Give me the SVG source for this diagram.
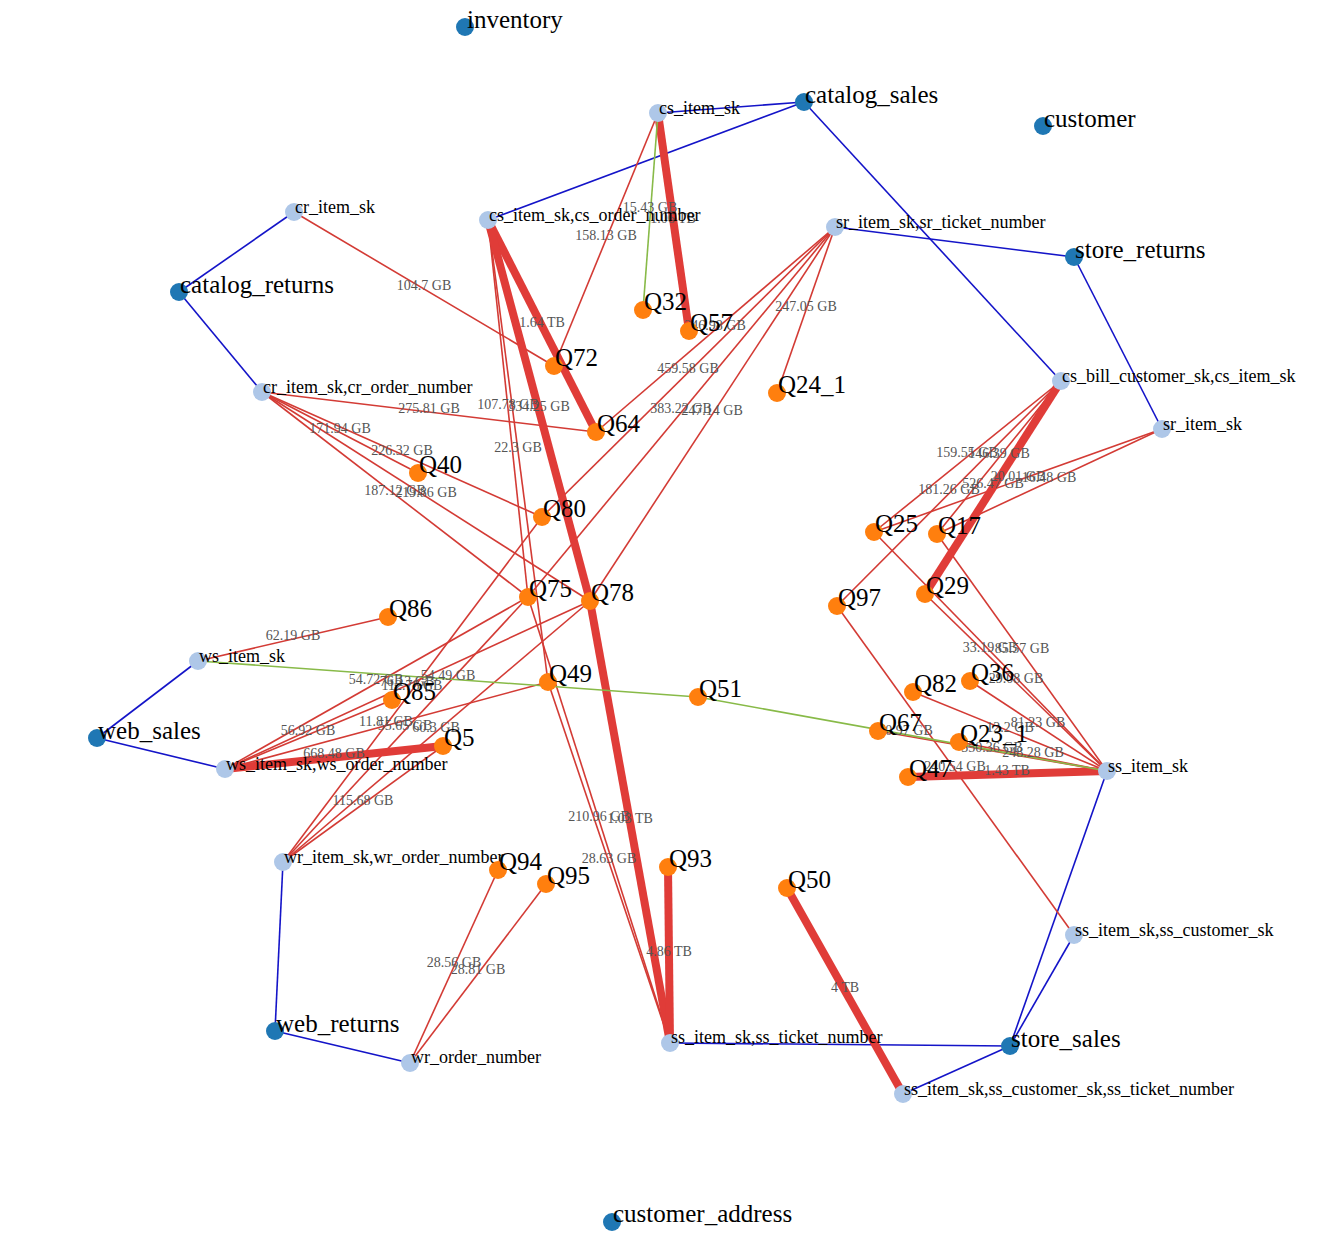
<svg xmlns="http://www.w3.org/2000/svg" width="1340" height="1245" viewBox="0 0 1340 1245">
<style>
.bg{fill:#ffffff}
.b{stroke:#1414c8;stroke-width:1.6;fill:none}
.g{stroke:#88ba48;stroke-width:1.6;fill:none}
.r{stroke:#d33b35;stroke-width:1.6;fill:none}
.t{stroke:#e03c38;stroke-width:8;fill:none}
.el{font-family:"Liberation Serif","Times New Roman",serif;font-size:14px;fill:#555;text-anchor:middle}
.tbl circle{fill:#1f77b4}
.idx circle{fill:#aec7e8}
.qry circle{fill:#ff7f0e}
.tbl text,.qry text{font-family:"Liberation Serif","Times New Roman",serif;font-size:25px;fill:#000}
.idx text{font-family:"Liberation Serif","Times New Roman",serif;font-size:18px;fill:#000}
</style>
<rect class="bg" x="0" y="0" width="1340" height="1245"/>
<g id="connectors">
<line class="b" x1="804" y1="102" x2="658" y2="113"/>
<line class="b" x1="804" y1="102" x2="488" y2="220"/>
<line class="b" x1="804" y1="102" x2="1061" y2="381"/>
<line class="b" x1="179" y1="292" x2="294" y2="212"/>
<line class="b" x1="179" y1="292" x2="262" y2="392"/>
<line class="b" x1="1074" y1="257" x2="835" y2="227"/>
<line class="b" x1="1074" y1="257" x2="1162" y2="429"/>
<line class="b" x1="97" y1="738" x2="198" y2="661"/>
<line class="b" x1="97" y1="738" x2="225" y2="769"/>
<line class="b" x1="275" y1="1031" x2="283" y2="862"/>
<line class="b" x1="275" y1="1031" x2="410" y2="1063"/>
<line class="b" x1="1010" y1="1046" x2="1107" y2="771"/>
<line class="b" x1="1010" y1="1046" x2="1074" y2="935"/>
<line class="b" x1="1010" y1="1046" x2="670" y2="1043"/>
<line class="b" x1="1010" y1="1046" x2="903" y2="1094"/>

<line class="r" x1="658" y1="113" x2="554" y2="366"/>
<line class="r" x1="294" y1="212" x2="554" y2="366"/>
<line class="r" x1="488" y1="220" x2="528" y2="597"/>
<line class="r" x1="488" y1="220" x2="548" y2="682"/>
<line class="r" x1="528" y1="597" x2="670" y2="1043"/>
<line class="r" x1="548" y1="682" x2="670" y2="1043"/>
<line class="r" x1="262" y1="392" x2="596" y2="432"/>
<line class="r" x1="262" y1="392" x2="418" y2="473"/>
<line class="r" x1="262" y1="392" x2="542" y2="517"/>
<line class="r" x1="262" y1="392" x2="528" y2="597"/>
<line class="r" x1="262" y1="392" x2="590" y2="601"/>
<line class="r" x1="835" y1="227" x2="777" y2="393"/>
<line class="r" x1="835" y1="227" x2="596" y2="432"/>
<line class="r" x1="835" y1="227" x2="542" y2="517"/>
<line class="r" x1="835" y1="227" x2="528" y2="597"/>
<line class="r" x1="835" y1="227" x2="590" y2="601"/>
<line class="r" x1="1061" y1="381" x2="874" y2="532"/>
<line class="r" x1="1061" y1="381" x2="937" y2="534"/>
<line class="r" x1="1061" y1="381" x2="837" y2="606"/>
<line class="r" x1="1162" y1="429" x2="874" y2="532"/>
<line class="r" x1="1162" y1="429" x2="937" y2="534"/>
<line class="r" x1="1107" y1="771" x2="874" y2="532"/>
<line class="r" x1="1107" y1="771" x2="937" y2="534"/>
<line class="r" x1="1107" y1="771" x2="925" y2="594"/>
<line class="r" x1="1107" y1="771" x2="970" y2="681"/>
<line class="r" x1="1107" y1="771" x2="913" y2="692"/>
<line class="r" x1="1107" y1="771" x2="878" y2="731"/>
<line class="r" x1="1107" y1="771" x2="959" y2="742"/>
<line class="r" x1="837" y1="606" x2="1074" y2="935"/>
<line class="r" x1="198" y1="661" x2="388" y2="617"/>
<line class="r" x1="225" y1="769" x2="392" y2="700"/>
<line class="r" x1="225" y1="769" x2="548" y2="682"/>
<line class="r" x1="225" y1="769" x2="528" y2="597"/>
<line class="r" x1="225" y1="769" x2="590" y2="601"/>
<line class="r" x1="283" y1="862" x2="542" y2="517"/>
<line class="r" x1="283" y1="862" x2="528" y2="597"/>
<line class="r" x1="283" y1="862" x2="590" y2="601"/>
<line class="r" x1="283" y1="862" x2="443" y2="746"/>
<line class="r" x1="410" y1="1063" x2="498" y2="870"/>
<line class="r" x1="410" y1="1063" x2="546" y2="884"/>

<line class="t" x1="658" y1="113" x2="689" y2="331"/>
<line class="t" x1="488" y1="220" x2="596" y2="432"/>
<line class="t" x1="488" y1="220" x2="590" y2="601"/>
<line class="t" x1="590" y1="601" x2="670" y2="1043"/>
<line class="t" x1="668" y1="867" x2="670" y2="1043"/>
<line class="t" x1="787" y1="888" x2="903" y2="1094"/>
<line class="t" x1="908" y1="777" x2="1107" y2="771"/>
<line class="t" x1="443" y1="746" x2="225" y2="769"/>
<line class="t" x1="1061" y1="381" x2="925" y2="594"/>

<line class="g" x1="658" y1="113" x2="643" y2="310"/>
<line class="g" x1="198" y1="661" x2="698" y2="697"/>
<line class="g" x1="698" y1="697" x2="1107" y2="771"/>

<text class="el" x="650" y="212">15.43 GB</text>
<text class="el" x="448" y="680">54.49 GB</text>
<text class="el" x="902" y="735">170.97 GB</text>
<text class="el" x="673" y="223">1.06 TB</text>
<text class="el" x="542" y="327">1.64 TB</text>
<text class="el" x="539" y="411">334.25 GB</text>
<text class="el" x="630" y="823">1.03 TB</text>
<text class="el" x="669" y="956">4.86 TB</text>
<text class="el" x="845" y="992">4 TB</text>
<text class="el" x="1007" y="775">1.43 TB</text>
<text class="el" x="334" y="758">668.48 GB</text>
<text class="el" x="993" y="488">526.47 GB</text>
<text class="el" x="606" y="240">158.13 GB</text>
<text class="el" x="424" y="290">104.7 GB</text>
<text class="el" x="508" y="409">107.78 GB</text>
<text class="el" x="518" y="452">22.3 GB</text>
<text class="el" x="599" y="821">210.96 GB</text>
<text class="el" x="609" y="863">28.63 GB</text>
<text class="el" x="429" y="413">275.81 GB</text>
<text class="el" x="340" y="433">171.94 GB</text>
<text class="el" x="402" y="455">226.32 GB</text>
<text class="el" x="395" y="495">187.12 GB</text>
<text class="el" x="426" y="497">219.86 GB</text>
<text class="el" x="806" y="311">247.05 GB</text>
<text class="el" x="715" y="330">246.98 GB</text>
<text class="el" x="688" y="373">459.58 GB</text>
<text class="el" x="681" y="413">383.22 GB</text>
<text class="el" x="712" y="415">247.14 GB</text>
<text class="el" x="967" y="457">159.55 GB</text>
<text class="el" x="999" y="458">146.39 GB</text>
<text class="el" x="949" y="494">181.26 GB</text>
<text class="el" x="1018" y="481">20.01 GB</text>
<text class="el" x="1049" y="482">16.48 GB</text>
<text class="el" x="990" y="652">33.19 GB</text>
<text class="el" x="1022" y="653">85.57 GB</text>
<text class="el" x="1016" y="683">29.08 GB</text>
<text class="el" x="1038" y="727">81.23 GB</text>
<text class="el" x="1010" y="732">12.2 GB</text>
<text class="el" x="992" y="752">350.36 GB</text>
<text class="el" x="1033" y="757">248.28 GB</text>
<text class="el" x="955" y="771">240.54 GB</text>
<text class="el" x="293" y="640">62.19 GB</text>
<text class="el" x="308" y="735">56.92 GB</text>
<text class="el" x="386" y="726">11.81 GB</text>
<text class="el" x="376" y="684">54.72 GB</text>
<text class="el" x="407" y="686">76.13 GB</text>
<text class="el" x="412" y="690">112.78 GB</text>
<text class="el" x="405" y="730">55.65 GB</text>
<text class="el" x="436" y="732">60.3 GB</text>
<text class="el" x="363" y="805">115.68 GB</text>
<text class="el" x="454" y="967">28.56 GB</text>
<text class="el" x="478" y="974">28.81 GB</text>
</g>

<g id="n-inventory" class="tbl"><circle cx="465" cy="27" r="9"/><text x="467" y="28">inventory</text></g>
<g id="n-catalog_sales" class="tbl"><circle cx="804" cy="102" r="9"/><text x="805" y="103">catalog_sales</text></g>
<g id="n-customer" class="tbl"><circle cx="1043" cy="126" r="9"/><text x="1044" y="127">customer</text></g>
<g id="n-store_returns" class="tbl"><circle cx="1074" cy="257" r="9"/><text x="1075" y="258">store_returns</text></g>
<g id="n-catalog_returns" class="tbl"><circle cx="179" cy="292" r="9"/><text x="180" y="293">catalog_returns</text></g>
<g id="n-web_sales" class="tbl"><circle cx="97" cy="738" r="9"/><text x="98" y="739">web_sales</text></g>
<g id="n-web_returns" class="tbl"><circle cx="275" cy="1031" r="9"/><text x="276" y="1032">web_returns</text></g>
<g id="n-store_sales" class="tbl"><circle cx="1010" cy="1046" r="9"/><text x="1011" y="1047">store_sales</text></g>
<g id="n-customer_address" class="tbl"><circle cx="612" cy="1222" r="9"/><text x="613" y="1222">customer_address</text></g>

<g id="n-cs_item_sk" class="idx"><circle cx="658" cy="113" r="9"/><text x="659" y="114">cs_item_sk</text></g>
<g id="n-cs_item_sk_cs_order_number" class="idx"><circle cx="488" cy="220" r="9"/><text x="489" y="221">cs_item_sk,cs_order_number</text></g>
<g id="n-cr_item_sk" class="idx"><circle cx="294" cy="212" r="9"/><text x="295" y="213">cr_item_sk</text></g>
<g id="n-sr_item_sk_sr_ticket_number" class="idx"><circle cx="835" cy="227" r="9"/><text x="836" y="228">sr_item_sk,sr_ticket_number</text></g>
<g id="n-cr_item_sk_cr_order_number" class="idx"><circle cx="262" cy="392" r="9"/><text x="263" y="393">cr_item_sk,cr_order_number</text></g>
<g id="n-cs_bill_customer_sk_cs_item_sk" class="idx"><circle cx="1061" cy="381" r="9"/><text x="1062" y="382">cs_bill_customer_sk,cs_item_sk</text></g>
<g id="n-sr_item_sk" class="idx"><circle cx="1162" cy="429" r="9"/><text x="1163" y="430">sr_item_sk</text></g>
<g id="n-ws_item_sk" class="idx"><circle cx="198" cy="661" r="9"/><text x="199" y="662">ws_item_sk</text></g>
<g id="n-ws_item_sk_ws_order_number" class="idx"><circle cx="225" cy="769" r="9"/><text x="226" y="770">ws_item_sk,ws_order_number</text></g>
<g id="n-wr_item_sk_wr_order_number" class="idx"><circle cx="283" cy="862" r="9"/><text x="284" y="863">wr_item_sk,wr_order_number</text></g>
<g id="n-wr_order_number" class="idx"><circle cx="410" cy="1063" r="9"/><text x="411" y="1063">wr_order_number</text></g>
<g id="n-ss_item_sk" class="idx"><circle cx="1107" cy="771" r="9"/><text x="1108" y="772">ss_item_sk</text></g>
<g id="n-ss_item_sk_ss_customer_sk" class="idx"><circle cx="1074" cy="935" r="9"/><text x="1075" y="936">ss_item_sk,ss_customer_sk</text></g>
<g id="n-ss_item_sk_ss_ticket_number" class="idx"><circle cx="670" cy="1043" r="9"/><text x="671" y="1043">ss_item_sk,ss_ticket_number</text></g>
<g id="n-ss_item_sk_ss_customer_sk_ss_ticket_number" class="idx"><circle cx="903" cy="1094" r="9"/><text x="904" y="1095">ss_item_sk,ss_customer_sk,ss_ticket_number</text></g>

<g id="n-Q32" class="qry"><circle cx="643" cy="310" r="9"/><text x="644" y="310">Q32</text></g>
<g id="n-Q57" class="qry"><circle cx="689" cy="331" r="9"/><text x="690" y="331">Q57</text></g>
<g id="n-Q72" class="qry"><circle cx="554" cy="366" r="9"/><text x="555" y="366">Q72</text></g>
<g id="n-Q24_1" class="qry"><circle cx="777" cy="393" r="9"/><text x="778" y="393">Q24_1</text></g>
<g id="n-Q64" class="qry"><circle cx="596" cy="432" r="9"/><text x="597" y="432">Q64</text></g>
<g id="n-Q40" class="qry"><circle cx="418" cy="473" r="9"/><text x="419" y="473">Q40</text></g>
<g id="n-Q80" class="qry"><circle cx="542" cy="517" r="9"/><text x="543" y="517">Q80</text></g>
<g id="n-Q25" class="qry"><circle cx="874" cy="532" r="9"/><text x="875" y="532">Q25</text></g>
<g id="n-Q17" class="qry"><circle cx="937" cy="534" r="9"/><text x="938" y="534">Q17</text></g>
<g id="n-Q75" class="qry"><circle cx="528" cy="597" r="9"/><text x="529" y="597">Q75</text></g>
<g id="n-Q78" class="qry"><circle cx="590" cy="601" r="9"/><text x="591" y="601">Q78</text></g>
<g id="n-Q29" class="qry"><circle cx="925" cy="594" r="9"/><text x="926" y="594">Q29</text></g>
<g id="n-Q97" class="qry"><circle cx="837" cy="606" r="9"/><text x="838" y="606">Q97</text></g>
<g id="n-Q86" class="qry"><circle cx="388" cy="617" r="9"/><text x="389" y="617">Q86</text></g>
<g id="n-Q49" class="qry"><circle cx="548" cy="682" r="9"/><text x="549" y="682">Q49</text></g>
<g id="n-Q51" class="qry"><circle cx="698" cy="697" r="9"/><text x="699" y="697">Q51</text></g>
<g id="n-Q85" class="qry"><circle cx="392" cy="700" r="9"/><text x="393" y="700">Q85</text></g>
<g id="n-Q82" class="qry"><circle cx="913" cy="692" r="9"/><text x="914" y="692">Q82</text></g>
<g id="n-Q36" class="qry"><circle cx="970" cy="681" r="9"/><text x="971" y="681">Q36</text></g>
<g id="n-Q67" class="qry"><circle cx="878" cy="731" r="9"/><text x="879" y="731">Q67</text></g>
<g id="n-Q5" class="qry"><circle cx="443" cy="746" r="9"/><text x="444" y="746">Q5</text></g>
<g id="n-Q23_1" class="qry"><circle cx="959" cy="742" r="9"/><text x="960" y="742">Q23_1</text></g>
<g id="n-Q47" class="qry"><circle cx="908" cy="777" r="9"/><text x="909" y="777">Q47</text></g>
<g id="n-Q94" class="qry"><circle cx="498" cy="870" r="9"/><text x="499" y="870">Q94</text></g>
<g id="n-Q95" class="qry"><circle cx="546" cy="884" r="9"/><text x="547" y="884">Q95</text></g>
<g id="n-Q93" class="qry"><circle cx="668" cy="867" r="9"/><text x="669" y="867">Q93</text></g>
<g id="n-Q50" class="qry"><circle cx="787" cy="888" r="9"/><text x="788" y="888">Q50</text></g>
</svg>
